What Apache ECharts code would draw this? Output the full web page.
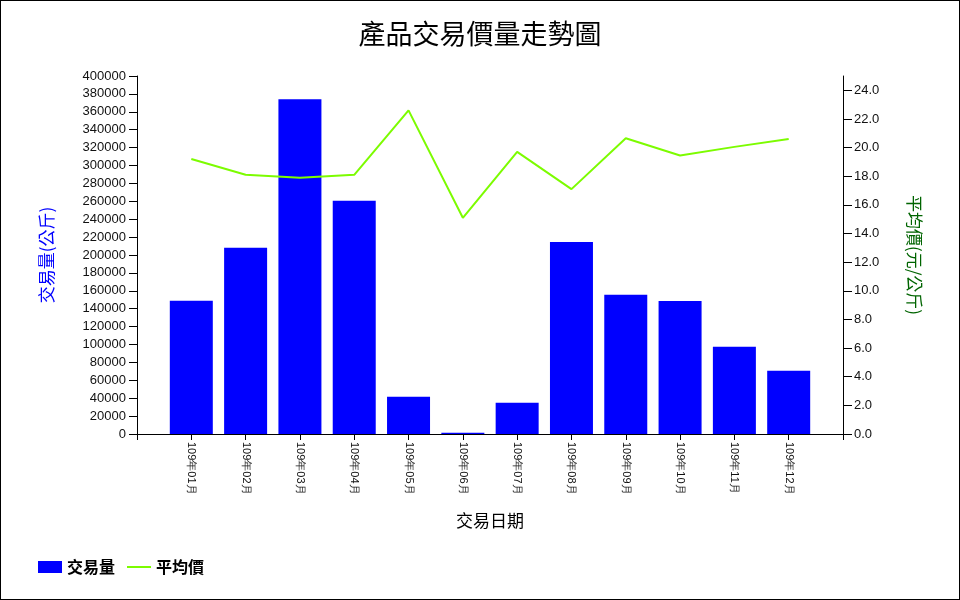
<!DOCTYPE html>
<html><head><meta charset="utf-8">
<script src="https://cdn.jsdelivr.net/npm/echarts@6/dist/echarts.min.js"></script>
<style>
html,body{margin:0;padding:0;background:#fff;}
#c{width:960px;height:600px;position:relative;}
#frame{position:absolute;left:0;top:0;width:958px;height:598px;border:1px solid #000;pointer-events:none;}
</style></head>
<body>
<div style="position:relative;width:960px;height:600px;">
<div id="c"></div><div id="frame"></div>
</div>
<script>
const categories = ['109年01月','109年02月','109年03月','109年04月','109年05月','109年06月','109年07月','109年08月','109年09月','109年10月','109年11月','109年12月'];
const volume = [149000, 208000, 374000, 260500, 41700, 1500, 35000, 214500, 155500, 148500, 97500, 70700];
const avgPrice = [19.2, 18.1, 17.9, 18.1, 22.6, 15.1, 19.7, 17.1, 20.65, 19.45, 20.05, 20.6];
const leftTicks = {min: 0, max: 400000, interval: 20000};
const rightTickValues = [0, 2, 4, 6, 8, 10, 12, 14, 16, 18, 20, 22, 24];
const rightMax = 25;

const font = 'Arial, "Liberation Sans", sans-serif';
const cjk = '"Noto Sans CJK TC", "Noto Sans CJK SC", sans-serif';

const chart = echarts.init(document.getElementById('c'), null, {renderer: 'canvas'});
chart.setOption({
  animation: false,
  backgroundColor: '#fff',
  title: {
    text: '產品交易價量走勢圖', left: 'center', top: 15,
    textStyle: {fontFamily: cjk, fontSize: 27, fontWeight: 'normal', color: '#000'}
  },
  legend: {
    left: 38, top: 559, padding: 0, itemWidth: 24, itemHeight: 12, itemGap: 12,
    textStyle: {fontFamily: cjk, fontSize: 16, fontWeight: 'bold', color: '#000'},
    data: [
      {name: '交易量', icon: 'rect'},
      {name: '平均價', icon: 'path://M0,0H0.01V0.01H0Z M0,5H24V7H0Z M0,11.99H0.01V12H0Z'}
    ]
  },
  grid: {left: 137, right: 117, top: 76, bottom: 166, containLabel: false},
  xAxis: {
    type: 'value', min: -1, max: 12, interval: 1,
    name: '交易日期', nameLocation: 'middle', nameGap: 78,
    nameTextStyle: {fontFamily: cjk, fontSize: 17, color: '#000'},
    axisLine: {show: true, onZero: false, lineStyle: {color: '#000', width: 1}},
    axisTick: {show: true, length: 6, lineStyle: {color: '#000'}},
    splitLine: {show: false},
    axisLabel: {
      rotate: -90, margin: 8, fontSize: 11, fontFamily: font, color: '#111',
      formatter: v => (v >= 0 && v < categories.length) ? categories[v] : ''
    }
  },
  yAxis: [{
    type: 'value', min: leftTicks.min, max: leftTicks.max, interval: leftTicks.interval,
    name: '交易量(公斤)', nameLocation: 'middle', nameGap: 82,
    nameTextStyle: {fontFamily: cjk, fontSize: 17, color: '#0000ff'},
    axisLine: {show: true, onZero: false, lineStyle: {color: '#000'}},
    axisTick: {show: true, length: 8, lineStyle: {color: '#000'}},
    splitLine: {show: false},
    axisLabel: {fontSize: 13, fontFamily: font, color: '#111', margin: 11,
      formatter: v => String(v)}
  }, {
    type: 'value', position: 'right', min: 0, max: rightMax,
    name: '平均價(元/公斤)', nameLocation: 'middle', nameGap: 63, nameRotate: -90,
    nameTextStyle: {fontFamily: cjk, fontSize: 17, color: '#006400'},
    axisLine: {show: true, onZero: false, lineStyle: {color: '#000'}},
    axisTick: {show: true, length: 9, lineStyle: {color: '#000'}, customValues: rightTickValues},
    splitLine: {show: false},
    axisLabel: {fontSize: 13, fontFamily: font, color: '#111', margin: 11,
      customValues: rightTickValues, formatter: v => Number(v).toFixed(1)}
  }],
  series: [{
    name: '交易量', type: 'bar', yAxisIndex: 0, barWidth: 43,
    itemStyle: {color: '#0000ff'},
    data: volume.map((v, i) => [i, v])
  }, {
    name: '平均價', type: 'line', yAxisIndex: 1, symbol: 'none',
    lineStyle: {color: '#7cfc00', width: 2}, itemStyle: {color: '#7cfc00'},
    data: avgPrice.map((v, i) => [i, v])
  }]
});
</script>
</body></html>
